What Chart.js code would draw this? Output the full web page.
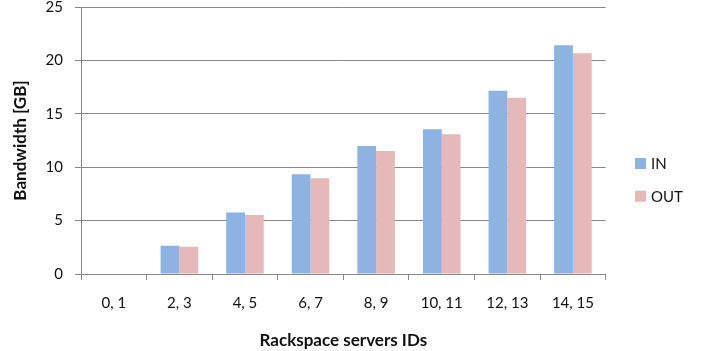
<!DOCTYPE html>
<html>
<head>
<meta charset="utf-8">
<script src="https://cdn.jsdelivr.net/npm/chart.js@4/dist/chart.umd.min.js"></script>
<style>
  html, body { margin: 0; padding: 0; background: #fff; }
  #wrap { width: 706px; height: 351px; }
</style>
</head>
<body>
<div id="wrap"><canvas id="c" width="706" height="351"></canvas></div>
<script>
// Server pairs and per-pair traffic in GB
const categories = ['0, 1', '2, 3', '4, 5', '6, 7', '8, 9', '10, 11', '12, 13', '14, 15'];
const inValues  = [0, 2.65, 5.77, 9.33, 11.98, 13.55, 17.16, 21.41];
const outValues = [0, 2.56, 5.52, 8.96, 11.52, 13.08, 16.51, 20.66];
const yTicks = [0, 5, 10, 15, 20, 25];

const FONT = 'Lato, "Open Sans", sans-serif';
const GRID = '#878787';
const INK = '#111';

// Legend drawn to the right of the plot, one swatch per dataset
const sideLegend = {
  id: 'sideLegend',
  afterDraw(chart) {
    const ctx = chart.ctx;
    const x = 635;
    const y0 = 158;
    ctx.save();
    ctx.font = '15px ' + FONT;
    ctx.textBaseline = 'middle';
    ctx.textAlign = 'left';
    chart.data.datasets.forEach((ds, i) => {
      const y = y0 + i * 32.7;
      ctx.fillStyle = ds.backgroundColor;
      ctx.fillRect(x, y, 11, 11);
      ctx.fillStyle = INK;
      ctx.fillText(ds.label, x + 16, y + 6);
    });
    ctx.restore();
  }
};

new Chart(document.getElementById('c'), {
  type: 'bar',
  data: {
    labels: categories,
    datasets: [
      { label: 'IN',  data: inValues,  backgroundColor: '#8DB3E2', borderWidth: 0 },
      { label: 'OUT', data: outValues, backgroundColor: '#E6B9B8', borderWidth: 0 }
    ]
  },
  options: {
    responsive: false,
    animation: false,
    devicePixelRatio: 1,
    layout: { padding: { left: 0, right: 100.3, top: 0, bottom: 0 } },
    datasets: { bar: { categoryPercentage: 0.573, barPercentage: 1.0 } },
    plugins: {
      legend: { display: false },
      tooltip: { enabled: false }
    },
    scales: {
      x: {
        afterFit(scale) {
          scale.height = 77;
          scale.paddingLeft = 0;
          scale.paddingRight = 0;
        },
        grid: { drawOnChartArea: false, drawTicks: true, tickLength: 6, color: GRID, offset: true },
        border: { display: true, color: GRID, width: 1 },
        ticks: {
          color: INK, font: { family: FONT, size: 15 }, padding: 14,
          maxRotation: 0, minRotation: 0, autoSkip: false
        },
        title: {
          display: true, text: 'Rackspace servers IDs', color: INK,
          font: { family: FONT, size: 17, weight: 'bold' },
          padding: { top: 0.5, bottom: 0 }
        }
      },
      y: {
        min: 0, max: 25,
        afterBuildTicks(scale) { scale.ticks = yTicks.map(v => ({ value: v })); },
        afterFit(scale) {
          scale.width = 81;
          scale.paddingTop = 7;
          scale.paddingBottom = 0;
        },
        grid: { color: GRID, tickLength: 6, drawTicks: true },
        border: { display: true, color: GRID, width: 1 },
        ticks: {
          color: INK, font: { family: FONT, size: 15 }, padding: 12
        },
        title: {
          display: true, text: 'Bandwidth [GB]', color: INK,
          font: { family: FONT, size: 17, weight: 'bold' },
          padding: { top: 10.8, bottom: 0 }
        }
      }
    }
  },
  plugins: [sideLegend]
});
</script>
</body>
</html>
